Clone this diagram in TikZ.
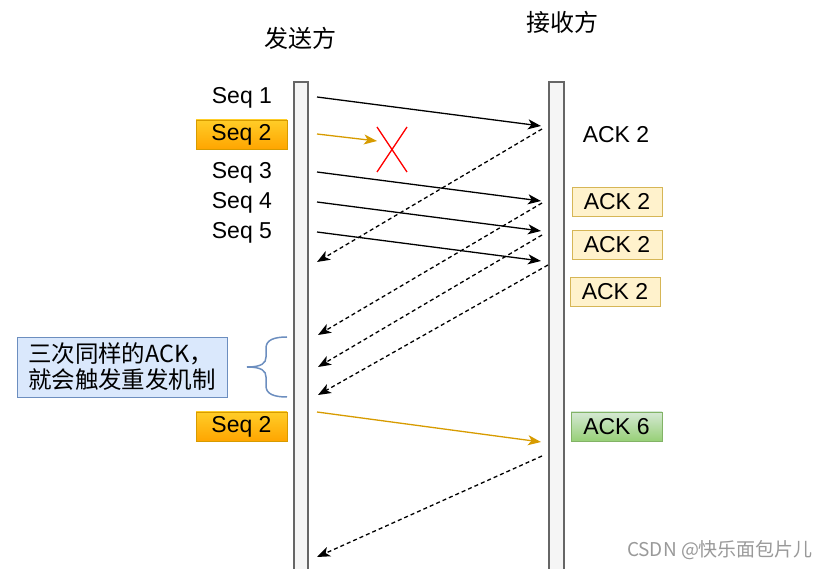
\documentclass[tikz,border=0pt]{standalone}
\usepackage{fontspec}
\setmainfont{Liberation Sans}
\newfontfamily\cjk{Noto Sans CJK SC}
\usetikzlibrary{arrows.meta}
\definecolor{barfill}{HTML}{F5F5F5}
\definecolor{bardraw}{HTML}{666666}
\definecolor{seqtop}{HTML}{FFCD28}
\definecolor{seqbot}{HTML}{FFA500}
\definecolor{seqline}{HTML}{D79B00}
\definecolor{ackfill}{HTML}{FFF2CC}
\definecolor{ackline}{HTML}{D6B656}
\definecolor{oktop}{HTML}{D5E8D4}
\definecolor{okbot}{HTML}{97D077}
\definecolor{okline}{HTML}{82B366}
\definecolor{notefill}{HTML}{DAE8FC}
\definecolor{noteline}{HTML}{6C8EBF}
\tikzset{
	every node/.style={inner sep=0pt,outer sep=0pt,font=\fontsize{23}{27}\selectfont},
	bar/.style={fill=barfill},
	barline/.style={draw=bardraw,line width=1.4pt},
	seqlabel/.style={anchor=east},
	lost/.style={rectangle,draw=seqline,top color=seqtop,bottom color=seqbot,minimum width=91pt,minimum height=29pt},
	dup/.style={rectangle,draw=ackline,fill=ackfill,minimum width=90pt,minimum height=29pt},
	msg/.style={line width=1.3pt,arrows={-Stealth[length=13pt,width=10pt,inset=3.5pt]}},
	ack/.style={msg,dash pattern=on 4pt off 3pt}
	}
\begin{document}
\begin{tikzpicture}[x=1pt,y=-1pt]
	\useasboundingbox (0,0) rectangle (831,569);
	% lifelines
	\fill[bar] (294,82) rectangle (308,569);
	\draw[barline] (294,569) |- (308,82) -- (308,569);
	\fill[bar] (549,82) rectangle (564,569);
	\draw[barline] (549,569) |- (564,82) -- (564,569);
	\node[font=\fontsize{24}{28}\selectfont\cjk] (snd) at (300,38) {发送方};
	\node[font=\fontsize{24}{28}\selectfont\cjk] (rcv) at (562,22) {接收方};
	% sender side
	\node[seqlabel] (seq1) at (272,98) {Seq 1};
	\node[lost] (seq2) at (241.5,134.5) {Seq 2};
	\node[seqlabel] (seq3) at (272,173) {Seq 3};
	\node[seqlabel] (seq4) at (272,203) {Seq 4};
	\node[seqlabel] (seq5) at (272,233) {Seq 5};
	\node[lost] (reseq) at (241.5,426.5) {Seq 2};
	% receiver side
	\node (ack1) at (616,135) {ACK 2};
	\node[dup] (ack2) at (617,201.5) {ACK 2};
	\node[dup] (ack3) at (617,245) {ACK 2};
	\node[dup] (ack4) at (615,291.5) {ACK 2};
	\node[rectangle,draw=okline,top color=oktop,bottom color=okbot,minimum width=91pt,minimum height=29pt] (ack6) at (616.5,426.5) {ACK 6};
	% note
	\node[rectangle,draw=noteline,fill=notefill,minimum width=210pt,minimum height=60pt,align=left,font=\fontsize{23.5}{26}\selectfont\cjk] (note) at (122,367) {三次同样的ACK，\\就会触发重发机制};
	\draw[noteline,line width=1.5pt] (287,337) .. controls (274,337) and (266,340) .. (266,348) -- (266,357)
		.. controls (266,363) and (262,367) .. (247,367) .. controls (262,367) and (266,371) .. (266,377)
		-- (266,386) .. controls (266,394) and (274,397) .. (287,397);
	% packets
	\coordinate (s1) at (317,97);
	\coordinate (r1) at (541,126);
	\draw[msg] (s1) -- (r1);
	\coordinate (s2) at (317,134);
	\coordinate (x2) at (377,141);
	\draw[msg,seqline] (s2) -- (x2);
	\draw[red,line width=1.3pt] (377,127) -- (407,172) (407,127) -- (377,172);
	\foreach \i/\y in {3/172,4/202,5/232}{
		\coordinate (s\i) at (317,\y);
		\coordinate (r\i) at (541,\y+29);
		\draw[msg] (s\i) -- (r\i);
	}
	\coordinate (s6) at (317,412);
	\coordinate (r6) at (541,442);
	\draw[msg,seqline] (s6) -- (r6);
	% acks
	\coordinate (a1) at (542,129);
	\coordinate (b1) at (317,262);
	\coordinate (a2) at (542,203);
	\coordinate (b2) at (318,335);
	\coordinate (a3) at (542,235);
	\coordinate (b3) at (318,367);
	\coordinate (a4) at (548,265);
	\coordinate (b4) at (318,395);
	\coordinate (a5) at (542,456);
	\coordinate (b5) at (317,557);
	\foreach \i in {1,...,5}
		\draw[ack] (a\i) -- (b\i);
	\node[text=gray!80,font=\fontsize{19}{21}\selectfont\cjk] (mark) at (720,550) {CSDN @快乐面包片儿};
\end{tikzpicture}
\end{document}
